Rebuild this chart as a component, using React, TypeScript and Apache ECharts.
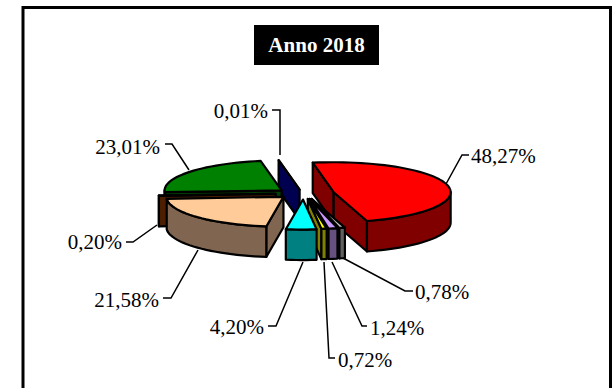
import React, { useEffect, useRef } from "react";
import * as echarts from "echarts";

const titleText = "Anno 2018";
const sliceNames = ["a", "b", "c", "d", "e", "f", "g", "h", "i"];
const shares = [48.27, 0.78, 1.24, 0.72, 4.2, 21.58, 0.2, 23.01, 0.01];
const shareLabels = ["48,27%", "0,78%", "1,24%", "0,72%", "4,20%", "21,58%", "0,20%", "23,01%", "0,01%"];
const topColors = ["#FF0000", "#C0C0C0", "#CC99FF", "#FFFF00", "#00FFFF", "#FFCC99", "#663300", "#008000", "#000080"];
const wallColors = ["#800000", "#606060", "#665080", "#808000", "#008080", "#806650", "#4D1F00", "#004000", "#000050"];
const explodeFactors = [1, 1, 1, 1, 1.1, 0.88, 0.9, 0.9, 0.7];
const drawOrder = [8, 7, 6, 5, 0, 1, 2, 3, 4];

const CX = 303.5, CY = 193.5, RX = 117, RY = 30, EX = 31, EY = 5.5, DEPTH = 30.5, START = -10.3;
const FONT = "'Liberation Serif'";
const FS = 21;

const total = shares.reduce((a, b) => a + b, 0);
const rad = (d: number) => (d * Math.PI) / 180;

function renderSlice(params: any, api: any) {
  const idx = api.value(0);
  const share = api.value(1);
  let before = 0;
  for (let i = 0; i < idx; i++) before += shares[i];
  const t0 = START + (before / total) * 360;
  const t1 = t0 + (share / total) * 360;
  const mid = (t0 + t1) / 2;
  const f = explodeFactors[idx];
  const ax = CX + Math.sin(rad(mid)) * EX * f;
  const ay = CY - Math.cos(rad(mid)) * EY * f;
  const rim = (t: number): number[] => [ax + RX * Math.sin(rad(t)), ay - RY * Math.cos(rad(t))];
  const down = (p: number[]) => [p[0], p[1] + DEPTH];
  const common = { stroke: "#000", lineWidth: 2.2, lineJoin: "round" };
  const children: any[] = [];
  const wall = (points: number[][]) =>
    children.push({ type: "polygon", shape: { points }, style: { ...common, fill: wallColors[idx] } });
  if (Math.sin(rad(t0)) < 0) {
    wall([[ax, ay], rim(t0), down(rim(t0)), [ax, ay + DEPTH]]);
  }
  if (Math.sin(rad(t1)) > 0) {
    wall([[ax, ay], rim(t1), down(rim(t1)), [ax, ay + DEPTH]]);
  }
  const a = Math.max(t0, 90), b = Math.min(t1, 270);
  if (b > a) {
    const top: number[][] = [], bottom: number[][] = [];
    const n = Math.max(2, Math.ceil((b - a) / 3));
    for (let i = 0; i <= n; i++) {
      const p = rim(a + ((b - a) * i) / n);
      top.push(p);
      bottom.unshift(down(p));
    }
    wall(top.concat(bottom));
  }
  const face: number[][] = [[ax, ay]];
  const n = Math.max(2, Math.ceil((t1 - t0) / 3));
  for (let i = 0; i <= n; i++) face.push(rim(t0 + ((t1 - t0) * i) / n));
  children.push({ type: "polygon", shape: { points: face }, style: { ...common, fill: topColors[idx] } });
  return { type: "group", children };
}

const labelLayout: { x: number; y: number; align: string; line: number[][] }[] = [
  { x: 471, y: 156, align: "left", line: [[469, 155], [462, 155], [446, 184]] },
  { x: 415, y: 292, align: "left", line: [[413, 291], [405, 291], [343, 258]] },
  { x: 370, y: 328, align: "left", line: [[367, 326], [362, 326], [332, 262]] },
  { x: 338, y: 360, align: "left", line: [[335, 358], [329, 358], [324, 262]] },
  { x: 264, y: 327, align: "right", line: [[268, 326], [276, 326], [303, 262]] },
  { x: 159, y: 300, align: "right", line: [[163, 298], [171, 298], [198, 250]] },
  { x: 122, y: 242, align: "right", line: [[126, 242], [133, 242], [157, 225]] },
  { x: 160, y: 147, align: "right", line: [[165, 144], [172, 144], [189, 170]] },
  { x: 268, y: 111, align: "right", line: [[272, 110], [280, 110], [280, 155]] },
];

export default function App() {
  const ref = useRef<HTMLDivElement>(null);
  useEffect(() => {
    const chart = echarts.init(ref.current!, undefined, { renderer: "svg" });
    const graphics: any[] = [
      {
        type: "rect",
        shape: { x: 23, y: 7.5, width: 587.5, height: 400 },
        style: { fill: "#fff", stroke: "#000", lineWidth: 3 },
        z: -1,
      },
      {
        type: "rect",
        shape: { x: 254, y: 25, width: 125, height: 40 },
        style: { fill: "#000" },
        z: 1,
      },
      {
        type: "text",
        style: { x: 316.5, y: 45, text: titleText, fill: "#fff", font: `bold 21px ${FONT}`, align: "center", verticalAlign: "middle" },
        z: 2,
      },
    ];
    labelLayout.forEach((l, i) => {
      graphics.push({
        type: "polyline",
        shape: { points: l.line },
        style: { stroke: "#000", lineWidth: 1.5, fill: "none" },
        z: 3,
      });
      graphics.push({
        type: "text",
        style: { x: l.x, y: l.y, text: shareLabels[i], fill: "#000", font: `${FS}px ${FONT}`, align: l.align, verticalAlign: "middle" },
        z: 3,
      });
    });
    chart.setOption({
      animation: false,
      backgroundColor: "#fff",
      graphic: graphics,
      series: [
        {
          type: "custom",
          coordinateSystem: "none",
          silent: true,
          renderItem: renderSlice,
          data: drawOrder.map((i) => ({ name: sliceNames[i], value: [i, shares[i]] })),
          encode: { value: 1 },
        },
      ],
    });
    return () => chart.dispose();
  }, []);
  return <div ref={ref} style={{ position: "fixed", left: 0, top: 0, width: 613, height: 388 }} />;
}
